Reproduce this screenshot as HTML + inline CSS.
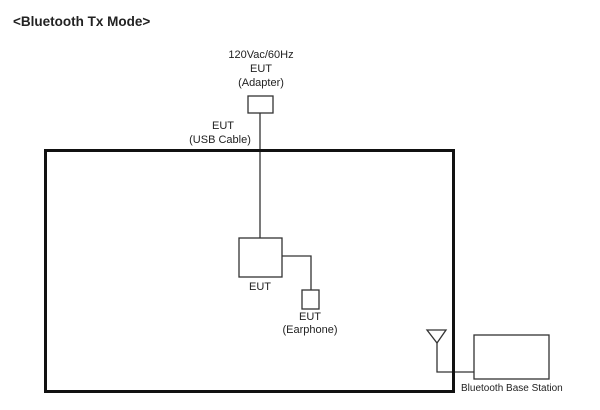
<!DOCTYPE html>
<html><head><style>
html,body{margin:0;padding:0;background:#fff;width:600px;height:410px;overflow:hidden}
svg text{font-family:"Liberation Sans",sans-serif;fill:#222}
</style></head><body>
<svg width="600" height="410" xmlns="http://www.w3.org/2000/svg">
<text x="13" y="26" font-size="13.5" font-weight="bold" fill="#000">&lt;Bluetooth Tx Mode&gt;</text>
<g font-size="11" text-anchor="middle">
<text x="261" y="58">120Vac/60Hz</text>
<text x="261" y="72">EUT</text>
<text x="261" y="86">(Adapter)</text>
<text x="223" y="129">EUT</text>
<text x="220" y="143">(USB Cable)</text>
<text x="260" y="290">EUT</text>
<text x="310" y="320">EUT</text>
<text x="310" y="333">(Earphone)</text>
</g>
<text x="461" y="391" font-size="10">Bluetooth Base Station</text>
<g fill="none" stroke="#333" stroke-width="1.3">
<rect x="248" y="96" width="25" height="17"/>
<line x1="260" y1="113" x2="260" y2="238"/>
<rect x="239" y="238" width="43" height="39"/>
<polyline points="282,256 311,256 311,290"/>
<rect x="302" y="290" width="17" height="19"/>
<polygon points="427,330 446,330 437,343"/>
<polyline points="437,343 437,372 474,372"/>
<rect x="474" y="335" width="75" height="44"/>
</g>
<rect x="45.5" y="150.5" width="408" height="241" fill="none" stroke="#111" stroke-width="3"/>
</svg>
</body></html>
